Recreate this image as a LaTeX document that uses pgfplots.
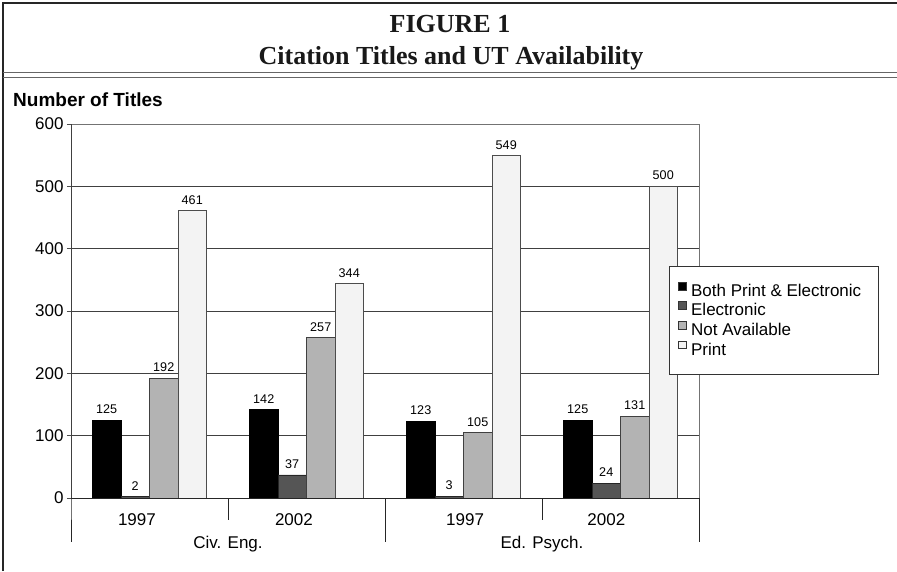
\documentclass[border=0pt]{standalone}
\usepackage{fontspec}
\setmainfont{Liberation Sans}
\newfontfamily\titlefont{Liberation Serif}
\usepackage{pgfplots}
\pgfplotsset{compat=1.18}
\definecolor{cA}{HTML}{000000}
\definecolor{cB}{HTML}{555555}
\definecolor{cC}{HTML}{B3B3B3}
\definecolor{cD}{HTML}{F3F3F3}
\begin{document}
\begin{tikzpicture}
\useasboundingbox (0,0) rectangle (897pt,-571pt);
% frame
\draw[line width=1.5pt, black!85] (3pt,-571pt) -- (3pt,-3pt) -- (897pt,-3pt);
\draw[line width=0.9pt, black!60] (3pt,-72pt) -- (897pt,-72pt);
\draw[line width=0.9pt, black!60] (3pt,-77pt) -- (897pt,-77pt);
% titles
\node[anchor=base, inner sep=0pt, font=\titlefont\bfseries\fontsize{26}{30}\selectfont, text=black!90] at (450pt,-32.5pt) {FIGURE 1};
\node[anchor=base, inner sep=0pt, font=\titlefont\bfseries\fontsize{26}{30}\selectfont, text=black!90] at (451pt,-64.5pt) {Citation Titles and UT Availability};
\node[anchor=base west, inner sep=0pt, font=\bfseries\fontsize{19}{22}\selectfont] at (13pt,-106pt) {Number of Titles};
\begin{axis}[
  at={(71pt,-498pt)}, anchor=south west,
  width=628pt, height=374pt, scale only axis,
  clip=false,
  ybar=0pt, bar width=28.5pt,
  xmin=-0.5, xmax=3.5, ymin=0, ymax=600,
  ytick={0,100,...,600},
  xtick={-0.08,0.92,2.01,2.91},
  xticklabels={1997,2002,1997,2002},
  tick pos=left,
  tick align=outside,
  major tick length=4pt,
  xtick style={draw=none},
  ytick style={black!70, line width=0.8pt},
  ymajorgrids,
  grid style={black!75, line width=0.8pt},
  axis line style={black!55, line width=0.8pt},
  /pgf/number format/assume math mode=true,
  yticklabel style={font=\fontsize{17}{20}\selectfont},
  xticklabel style={font=\fontsize{17}{20}\selectfont, anchor=base, yshift=-23pt},
  nodes near coords,
  every node near coord/.append style={font=\fontsize{12.6}{14}\selectfont, inner sep=0pt, yshift=6pt, text=black},
  legend style={at={(0.952,0.620)}, anchor=north west, draw=black!80, fill=white,
    font=\fontsize{17}{20}\selectfont, inner xsep=9pt, inner ysep=15.5pt,
    row sep=1.6pt, column sep=5pt,
    nodes={inner sep=0pt, text height=12.5pt, text depth=3.5pt}},
  legend cell align=left,
  legend image code/.code={\draw[#1, draw=black!80, line width=0.6pt] (0pt,2pt) rectangle (7.5pt,9.7pt);},
]
\addplot[fill=cA, draw=black, line width=0.7pt] coordinates {(0,125) (1,142) (2,123) (3,125)};
\addplot[fill=cB, draw=black!85, line width=0.7pt] coordinates {(0,2) (1,37) (2,3) (3,24)};
\addplot[fill=cC, draw=black!75, line width=0.7pt] coordinates {(0,192) (1,257) (2,105) (3,131)};
\addplot[fill=cD, draw=black!70, line width=0.7pt] coordinates {(0,461) (1,344) (2,549) (3,500)};
\legend{Both Print \& Electronic\hspace*{8pt},Electronic,Not Available,Print}
% axis lines left/bottom and separators
\draw[black!85, line width=0.9pt] (axis cs:-0.5,600) -- (axis cs:-0.5,0) -- ([yshift=-44pt]axis cs:-0.5,0);
\draw[black!85, line width=0.9pt] (axis cs:-0.5,0) -- (axis cs:3.5,0) -- ([yshift=-44pt]axis cs:3.5,0);
\draw[black!85, line width=0.9pt] (axis cs:1.5,0) -- ([yshift=-44pt]axis cs:1.5,0);
\draw[black!85, line width=0.9pt] (axis cs:0.5,0) -- ([yshift=-22pt]axis cs:0.5,0);
\draw[black!85, line width=0.9pt] (axis cs:2.5,0) -- ([yshift=-22pt]axis cs:2.5,0);
\node[anchor=base, inner sep=0pt, font=\fontsize{17}{20}\selectfont] at (axis cs:0.5,0) [yshift=-50.3pt] {Civ. Eng.};
\node[anchor=base, inner sep=0pt, font=\fontsize{17}{20}\selectfont] at (axis cs:2.5,0) [yshift=-50.3pt] {Ed. Psych.};
\end{axis}
\end{tikzpicture}
\end{document}
